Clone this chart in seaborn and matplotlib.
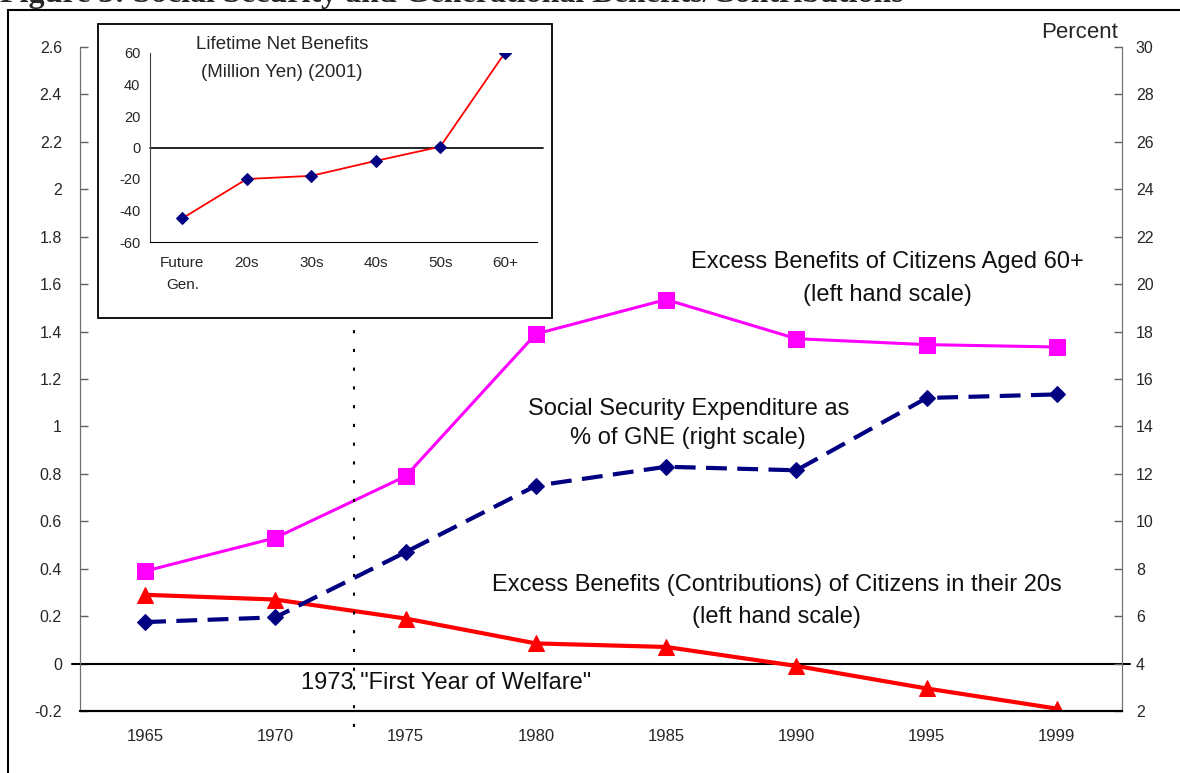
import numpy as np
import matplotlib
matplotlib.use('Agg')
import matplotlib.pyplot as plt
import matplotlib.patches as patches
import seaborn as sns

# Datos del gráfico principal
years = ['1965', '1970', '1975', '1980', '1985', '1990', '1995', '1999']
aged60 = [0.39, 0.53, 0.79, 1.39, 1.535, 1.37, 1.345, 1.335]
twenties = [0.29, 0.27, 0.19, 0.085, 0.07, -0.01, -0.105, -0.19]
ss_gne = [5.75, 5.95, 8.7, 11.5, 12.3, 12.15, 15.2, 15.35]

left_ticks = [-0.2, 0, 0.2, 0.4, 0.6, 0.8, 1, 1.2, 1.4, 1.6, 1.8, 2, 2.2, 2.4, 2.6]
right_ticks = [2, 4, 6, 8, 10, 12, 14, 16, 18, 20, 22, 24, 26, 28, 30]

# Datos del recuadro
gens = ['Future\nGen.', '20s', '30s', '40s', '50s', '60+']
net_benefits = [-45, -20, -18, -8.5, 0.5, 60]
inset_ticks = [-60, -40, -20, 0, 20, 40, 60]

sns.set_style('white')
plt.rcParams['font.family'] = ['Liberation Sans', 'DejaVu Sans']

fig = plt.figure(figsize=(11.8, 7.73), dpi=100)

# Título (cortado arriba, como en la imagen)
fig.text(0.0, 1 - 2 / 773, 'Figure 3: Social Security and Generational Benefits/Contributions',
         family=['Liberation Serif', 'DejaVu Serif'], fontweight='bold', fontsize=23,
         ha='left', va='baseline')

# Marco exterior
fig.patches.append(patches.Rectangle((8 / 1180, -0.01), 1.2, 1 - 10 / 773 + 0.01,
                                     transform=fig.transFigure, fill=False,
                                     edgecolor='black', lw=1.5, zorder=1))

ax = fig.add_axes([80 / 1180, 1 - 711 / 773, 1042 / 1180, 664 / 773])
ax2 = ax.twinx()

sns.lineplot(x=years, y=aged60, ax=ax, color='#FF00FF', lw=2.2, marker='s',
             markersize=11, markeredgecolor='#FF00FF', sort=False)
sns.lineplot(x=years, y=twenties, ax=ax, color='#FF0000', lw=3, marker='^',
             markersize=12, markeredgecolor='#FF0000', sort=False)
sns.lineplot(x=years, y=ss_gne, ax=ax2, color='#000080', lw=3, marker='D',
             markersize=8, markeredgecolor='#000080', linestyle=(0, (5, 2.5)), sort=False)

ax.set_xlim(-0.5, len(years) - 0.5)
ax.set_ylim(-0.2, 2.6)
ax2.set_ylim(2, 30)
ax.set_yticks(left_ticks)
ax.set_yticklabels(['{:g}'.format(t) for t in left_ticks])
ax2.set_yticks(right_ticks)
ax2.set_yticklabels([str(t) for t in right_ticks])
ax.set_xticks(range(len(years)))
ax.set_xticklabels(years)
ax.set_xticks(np.arange(0.5, len(years) - 1, 1), minor=True)
ax.tick_params(axis='x', which='major', length=0, pad=13, labelsize=12)
ax.tick_params(axis='x', which='minor', direction='in', length=6, width=1, color='black')
ax.tick_params(axis='y', direction='in', length=6, width=1, color='#606060', labelsize=11.5, pad=13)
ax2.tick_params(axis='y', direction='in', length=6, width=1, color='#606060', labelsize=11.5, pad=10)
ax.set_xlabel('')
ax.set_ylabel('')
ax2.set_ylabel('')

for a in (ax, ax2):
    a.spines['top'].set_visible(False)
    a.spines['left'].set_color('#707070')
    a.spines['right'].set_color('#707070')
    a.spines['bottom'].set_color('black')
    a.spines['bottom'].set_linewidth(1.5)
    a.grid(False)

ax.axhline(0, xmin=-0.008, xmax=1.008, color='black', lw=1.5, clip_on=False, zorder=1)
ax.axvline(1.6, ymin=-0.024, ymax=0.592, color='black', lw=1.5,
           linestyle=(0, (1.5, 7.5)), clip_on=False)

txt = dict(fontsize=17, ha='center', va='center', color='#111111')
ax.text(5.70, 1.694, 'Excess Benefits of Citizens Aged 60+', **txt)
ax.text(5.70, 1.554, '(left hand scale)', **txt)
ax.text(4.17, 1.074, 'Social Security Expenditure as', **txt)
ax.text(4.17, 0.951, '% of GNE (right scale)', **txt)
ax.text(4.85, 0.331, 'Excess Benefits (Contributions) of Citizens in their 20s', **txt)
ax.text(4.85, 0.196, '(left hand scale)', **txt)
ax.text(2.31, -0.082, '1973 "First Year of Welfare"', **txt)
fig.text(1118 / 1180, 1 - 32 / 773, 'Percent', fontsize=16, ha='right', va='center')

# Recuadro: beneficios netos de por vida
fig.patches.append(patches.Rectangle((98 / 1180, 1 - 318 / 773), 454 / 1180, 294 / 773,
                                     transform=fig.transFigure, facecolor='white',
                                     edgecolor='black', lw=1.3, zorder=2))
axi = fig.add_axes([150 / 1180, 1 - 242 / 773, 387 / 1180, 189 / 773], zorder=3)
axi.patch.set_alpha(0)
sns.lineplot(x=gens, y=net_benefits, ax=axi, color='#FF0000', lw=1.3, marker='D',
             markersize=6, markeredgecolor='#000080', markerfacecolor='#000080', sort=False)
axi.set_xlim(-0.5, len(gens) - 0.5)
axi.set_ylim(-60, 60)
axi.set_yticks(inset_ticks)
axi.set_yticklabels([str(t) for t in inset_ticks])
axi.set_xticks(range(len(gens)))
axi.set_xticklabels(gens, linespacing=1.7, va='top')
axi.set_xticks(np.arange(0.5, len(gens) - 1, 1), minor=True)
axi.tick_params(axis='x', which='major', length=0, pad=10, labelsize=11)
axi.tick_params(axis='x', which='minor', direction='in', length=5, width=1, color='black')
axi.tick_params(axis='y', direction='in', length=5, width=1, color='black', labelsize=10.5, pad=7)
axi.set_xlabel('')
axi.set_ylabel('')
axi.spines['top'].set_visible(False)
axi.spines['right'].set_visible(False)
axi.spines['left'].set_color('#404040')
axi.spines['bottom'].set_color('black')
axi.grid(False)
axi.axhline(0, xmin=0, xmax=1.015, color='black', lw=1.2, clip_on=False, zorder=1)
axi.text(1.546, 65.1, 'Lifetime Net Benefits', fontsize=13.5, ha='center', va='center')
axi.text(1.546, 47.9, '(Million Yen) (2001)', fontsize=13.5, ha='center', va='center')

fig.savefig('out.png', dpi=100)
